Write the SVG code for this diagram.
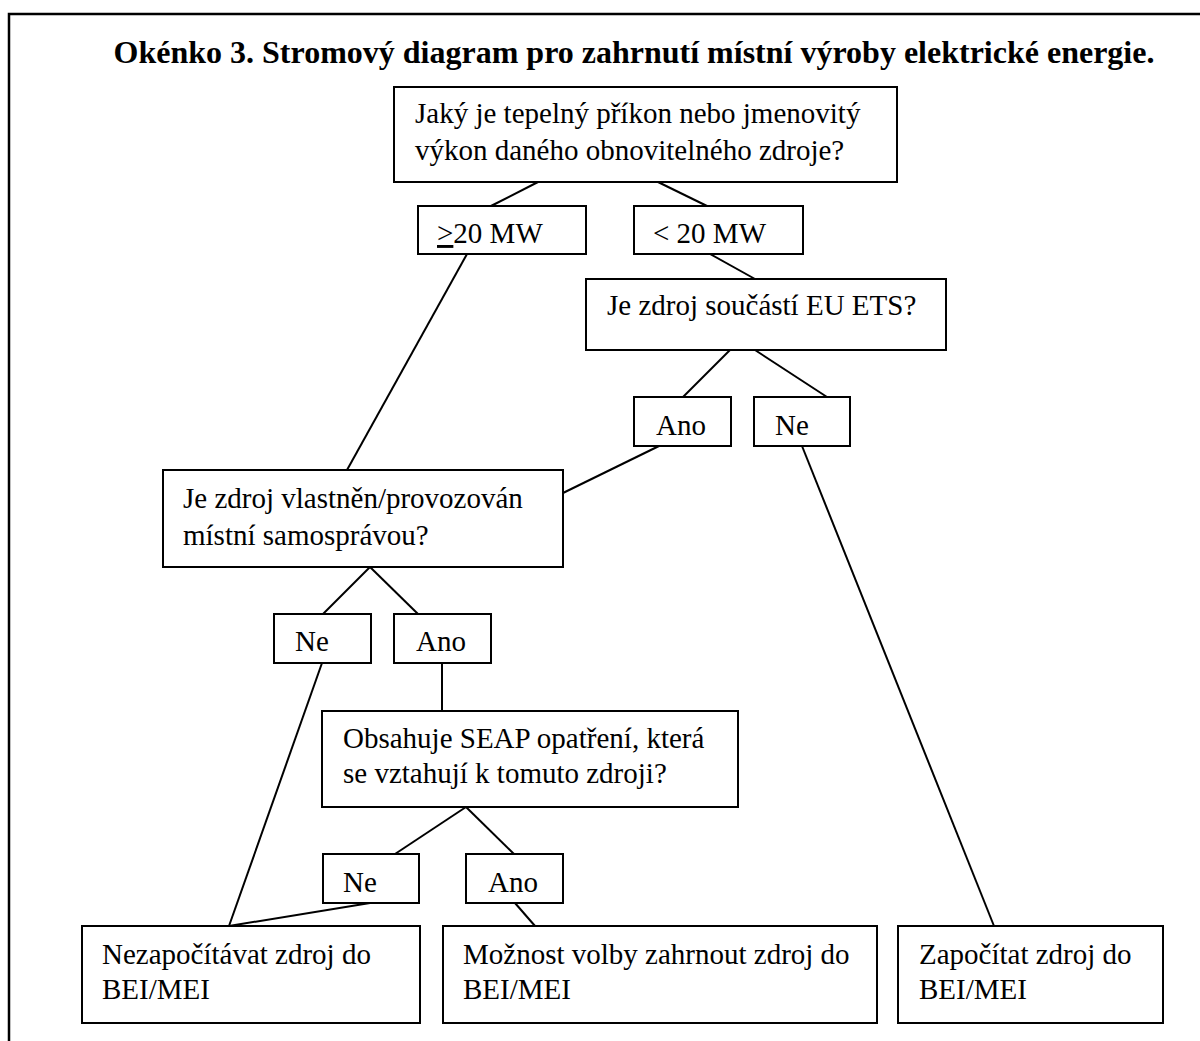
<svg xmlns="http://www.w3.org/2000/svg" width="1200" height="1041" viewBox="0 0 1200 1041">
<style>
.box{fill:#fff;stroke:#000;stroke-width:2}
.t{font-family:"Liberation Serif","Times New Roman",serif;font-size:29px;fill:#000}
.title{font-family:"Liberation Serif","Times New Roman",serif;font-size:32px;font-weight:bold;fill:#000}
.c line{stroke:#000;stroke-width:2}
</style>
<rect width="1200" height="1041" fill="#fff"/>
<path d="M9 1041 V14 H1200" fill="none" stroke="#000" stroke-width="2.5"/>
<text class="title" x="634" y="63" text-anchor="middle">Okénko 3. Stromový diagram pro zahrnutí místní výroby elektrické energie.</text>
<g class="c" id="connectors">
<line x1="538" y1="182" x2="491" y2="206"/>
<line x1="658" y1="182" x2="707" y2="206"/>
<line x1="467" y1="254" x2="347" y2="470"/>
<line x1="710" y1="254" x2="755" y2="279"/>
<line x1="730" y1="350" x2="683" y2="397"/>
<line x1="755" y1="350" x2="827" y2="397"/>
<line x1="659" y1="446" x2="563" y2="493"/>
<line x1="802" y1="446" x2="994" y2="926"/>
<line x1="370" y1="567" x2="323" y2="614"/>
<line x1="370" y1="567" x2="418" y2="614"/>
<line x1="322" y1="663" x2="229" y2="926"/>
<line x1="442" y1="663" x2="442" y2="711"/>
<line x1="466" y1="807" x2="395" y2="854"/>
<line x1="466" y1="807" x2="514" y2="854"/>
<line x1="370" y1="903" x2="229" y2="926"/>
<line x1="515" y1="903" x2="535" y2="926"/>
</g>
<g id="q1"><rect class="box" x="394" y="87" width="503" height="95"/>
<text class="t" x="415" y="123">Jaký je tepelný příkon nebo jmenovitý</text>
<text class="t" x="415" y="160">výkon daného obnovitelného zdroje?</text></g>
<g id="gt20"><rect class="box" x="418" y="206" width="168" height="48"/>
<text class="t" x="437" y="243"><tspan text-decoration="underline">&gt;</tspan>20 MW</text></g>
<g id="lt20"><rect class="box" x="634" y="206" width="169" height="48"/>
<text class="t" x="653" y="243">&lt; 20 MW</text></g>
<g id="q2"><rect class="box" x="586" y="279" width="360" height="71"/>
<text class="t" x="607" y="315">Je zdroj součástí EU ETS?</text></g>
<g id="ano1"><rect class="box" x="634" y="397" width="97" height="49"/>
<text class="t" x="656" y="435">Ano</text></g>
<g id="ne1"><rect class="box" x="754" y="397" width="96" height="49"/>
<text class="t" x="775" y="435">Ne</text></g>
<g id="q3"><rect class="box" x="163" y="470" width="400" height="97"/>
<text class="t" x="183" y="508">Je zdroj vlastněn/provozován</text>
<text class="t" x="183" y="545">místní samosprávou?</text></g>
<g id="ne2"><rect class="box" x="274" y="614" width="97" height="49"/>
<text class="t" x="295" y="651">Ne</text></g>
<g id="ano2"><rect class="box" x="394" y="614" width="97" height="49"/>
<text class="t" x="416" y="651">Ano</text></g>
<g id="q4"><rect class="box" x="322" y="711" width="416" height="96"/>
<text class="t" x="343" y="748">Obsahuje SEAP opatření, která</text>
<text class="t" x="343" y="783">se vztahují k tomuto zdroji?</text></g>
<g id="ne3"><rect class="box" x="323" y="854" width="96" height="49"/>
<text class="t" x="343" y="892">Ne</text></g>
<g id="ano3"><rect class="box" x="466" y="854" width="97" height="49"/>
<text class="t" x="488" y="892">Ano</text></g>
<g id="r1"><rect class="box" x="82" y="926" width="338" height="97"/>
<text class="t" x="102" y="964">Nezapočítávat zdroj do</text>
<text class="t" x="102" y="999">BEI/MEI</text></g>
<g id="r2"><rect class="box" x="443" y="926" width="434" height="97"/>
<text class="t" x="463" y="964">Možnost volby zahrnout zdroj do</text>
<text class="t" x="463" y="999">BEI/MEI</text></g>
<g id="r3"><rect class="box" x="898" y="926" width="265" height="97"/>
<text class="t" x="919" y="964">Započítat zdroj do</text>
<text class="t" x="919" y="999">BEI/MEI</text></g>
</svg>
